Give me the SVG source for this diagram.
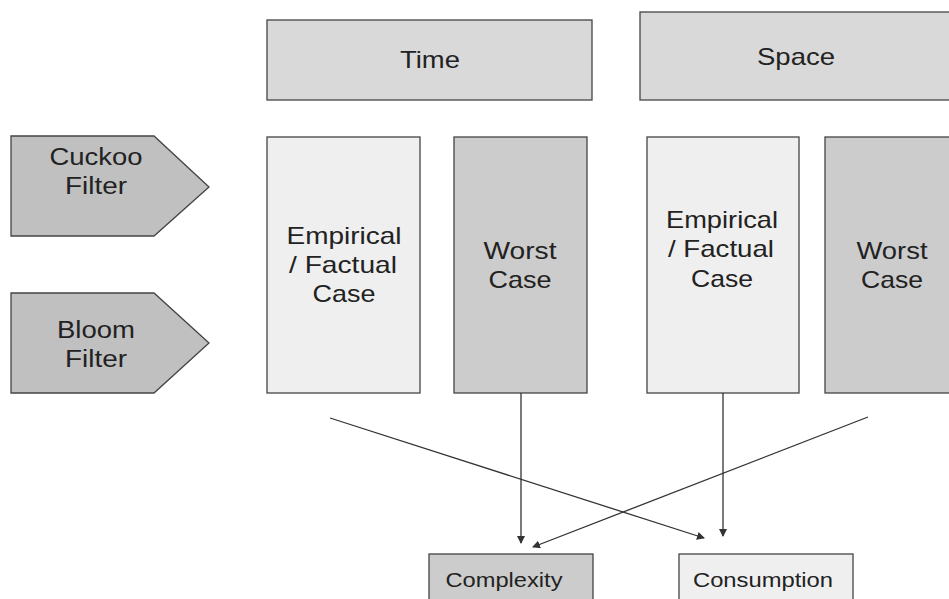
<svg xmlns="http://www.w3.org/2000/svg" width="949" height="599" viewBox="0 0 949 599">
<style>
  .box { stroke: #444; stroke-width: 1.3; }
  .hdr { fill: #d9d9d9; }
  .light { fill: #efefef; }
  .dark { fill: #cccccc; }
  .arrowshape { fill: #c0c0c0; }
  text { font-family: "Liberation Sans", Arial, sans-serif; fill: #222; text-anchor: middle; }
  .big { font-size: 24px; }
  .mid { font-size: 23px; }
  .small { font-size: 20px; }
  .conn { stroke: #333; stroke-width: 1.3; fill: none; marker-end: url(#ah); }
</style>
<defs>
  <marker id="ah" markerWidth="8" markerHeight="8" refX="7" refY="4" orient="auto" markerUnits="userSpaceOnUse">
    <path d="M0,0 L8,4 L0,8 Z" fill="#333"/>
  </marker>
</defs>
<rect width="949" height="599" fill="#ffffff"/>
<g id="time">
  <rect class="box hdr" x="267" y="20" width="325" height="80"/>
  <text class="big" x="430" y="68" textLength="60" lengthAdjust="spacingAndGlyphs">Time</text>
</g>
<g id="space">
  <rect class="box hdr" x="640" y="12" width="315" height="88"/>
  <text class="big" x="796" y="65" textLength="78" lengthAdjust="spacingAndGlyphs">Space</text>
</g>
<g id="cuckoo">
  <polygon class="box arrowshape" points="11,136 154,136 209,187 154,236 11,236"/>
  <text class="mid" x="96" y="165" textLength="93" lengthAdjust="spacingAndGlyphs">Cuckoo</text>
  <text class="mid" x="96" y="194" textLength="62" lengthAdjust="spacingAndGlyphs">Filter</text>
</g>
<g id="bloom">
  <polygon class="box arrowshape" points="11,293 154,293 209,343 154,393 11,393"/>
  <text class="mid" x="96" y="338" textLength="78" lengthAdjust="spacingAndGlyphs">Bloom</text>
  <text class="mid" x="96" y="367" textLength="62" lengthAdjust="spacingAndGlyphs">Filter</text>
</g>
<g id="time-empirical">
  <rect class="box light" x="267" y="137" width="153" height="256"/>
  <text class="big" x="344" y="244" textLength="115" lengthAdjust="spacingAndGlyphs">Empirical</text>
  <text class="big" x="343" y="273" textLength="108" lengthAdjust="spacingAndGlyphs">/ Factual</text>
  <text class="big" x="344" y="302" textLength="63" lengthAdjust="spacingAndGlyphs">Case</text>
</g>
<g id="time-worst">
  <rect class="box dark" x="454" y="137" width="133" height="256"/>
  <text class="big" x="520" y="259" textLength="73" lengthAdjust="spacingAndGlyphs">Worst</text>
  <text class="big" x="520" y="288" textLength="63" lengthAdjust="spacingAndGlyphs">Case</text>
</g>
<g id="space-empirical">
  <rect class="box light" x="647" y="137" width="152" height="256"/>
  <text class="big" x="722" y="228" textLength="112" lengthAdjust="spacingAndGlyphs">Empirical</text>
  <text class="big" x="721" y="257" textLength="106" lengthAdjust="spacingAndGlyphs">/ Factual</text>
  <text class="big" x="722" y="287" textLength="62" lengthAdjust="spacingAndGlyphs">Case</text>
</g>
<g id="space-worst">
  <rect class="box dark" x="825" y="137" width="136" height="256"/>
  <text class="big" x="892" y="259" textLength="71" lengthAdjust="spacingAndGlyphs">Worst</text>
  <text class="big" x="892" y="288" textLength="62" lengthAdjust="spacingAndGlyphs">Case</text>
</g>
<g id="complexity">
  <rect class="box dark" x="429" y="554" width="164" height="60"/>
  <text class="small" x="504" y="587" textLength="117" lengthAdjust="spacingAndGlyphs">Complexity</text>
</g>
<g id="consumption">
  <rect class="box light" x="679" y="554" width="174" height="60"/>
  <text class="small" x="763" y="587" textLength="140" lengthAdjust="spacingAndGlyphs">Consumption</text>
</g>
<g id="connectors">
  <line class="conn" x1="521" y1="393" x2="521" y2="543"/>
  <line class="conn" x1="723" y1="393" x2="723" y2="536"/>
  <line class="conn" x1="330" y1="418" x2="704" y2="538"/>
  <line class="conn" x1="868" y1="417" x2="533" y2="547"/>
</g>
</svg>
